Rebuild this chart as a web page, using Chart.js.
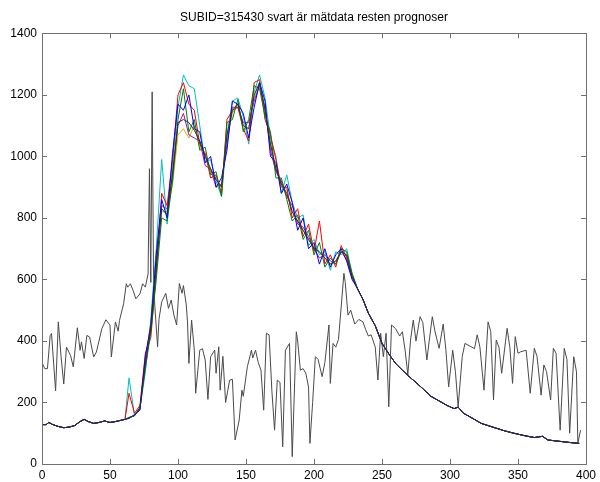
<!DOCTYPE html>
<html lang="sv">
<head>
  <meta charset="UTF-8">
  <title>SUBID=315430</title>
  <script src="https://cdn.jsdelivr.net/npm/chart.js"></script>
  <style>
    html, body { margin: 0; padding: 0; background: #ffffff; }
    #wrap { width: 600px; height: 482px; }
  </style>
</head>
<body>
  <div id="wrap"><canvas id="chart"></canvas></div>
  <script>
    // mätdata (svart)
    const measDays = [0, 2, 4, 6, 7, 10, 12, 14, 16, 18, 21, 23, 26, 28, 29, 31, 33, 35, 38, 40,
      44, 47, 50, 51, 54, 56, 57, 60, 62, 63, 65, 67, 69, 72, 74, 76, 78, 79, 80, 81,
      82, 83, 85, 86, 88, 91, 93, 95, 97, 99, 101, 103, 104, 106, 107, 108, 110, 112, 113, 116,
      118, 120, 122, 124, 127, 128, 130, 131, 133, 135, 138, 140, 142, 145, 147, 148, 151, 154, 155, 157,
      159, 161, 163, 165, 167, 169, 171, 173, 175, 177, 179, 182, 184, 187, 188, 190, 192, 194, 196, 197,
      199, 201, 203, 206, 208, 211, 212, 214, 216, 218, 220, 222, 223, 225, 227, 230, 233, 236, 238, 240,
      242, 245, 247, 249, 251, 253, 255, 257, 260, 263, 265, 267, 269, 271, 273, 275, 278, 280, 283, 285,
      287, 289, 292, 295, 297, 299, 302, 304, 306, 309, 311, 314, 316, 318, 320, 322, 325, 328, 330, 332,
      334, 336, 338, 342, 344, 346, 348, 350, 352, 356, 359, 362, 364, 367, 369, 371, 374, 376, 378, 381,
      384, 386, 388, 391, 393, 394, 396];
    const measVals = [330, 310, 310, 418, 424, 238, 462, 350, 260, 380, 353, 316, 443, 370, 397, 343, 418, 413, 348, 364,
      440, 469, 451, 348, 462, 432, 467, 521, 586, 575, 586, 564, 537, 553, 586, 575, 618, 960, 590, 1210,
      597, 510, 381, 470, 527, 555, 506, 533, 484, 452, 587, 555, 580, 520, 462, 327, 468, 370, 230, 370,
      375, 338, 210, 349, 370, 295, 381, 240, 350, 200, 273, 275, 78, 143, 240, 220, 316, 370, 345, 370,
      330, 305, 175, 425, 420, 240, 110, 273, 265, 56, 370, 392, 24, 430, 400, 305, 310, 295, 250, 67,
      200, 349, 340, 284, 330, 452, 262, 392, 380, 405, 511, 620, 590, 484, 500, 455, 470, 462, 437, 416,
      420, 381, 273, 425, 349, 425, 186, 452, 440, 416, 430, 370, 290, 403, 468, 400, 479, 460, 338, 410,
      479, 430, 376, 455, 370, 251, 370, 300, 186, 349, 392, 385, 380, 375, 420, 380, 240, 462, 430, 208,
      403, 380, 295, 441, 380, 262, 414, 360, 365, 370, 230, 376, 350, 224, 322, 300, 208, 376, 360, 110,
      376, 340, 100, 349, 300, 67, 110];

    // prognoser: gemensam början och slut, medlemmarna skiljer sig i mitten
    const headDays = [0, 3, 5, 8, 12, 16, 20, 24, 28, 31, 34, 38, 42, 46, 50, 54, 58, 61];
    const headVals = [128, 128, 135, 128, 122, 118, 120, 125, 138, 145, 138, 132, 135, 140, 135, 138, 142, 145];
    const midDays = [64, 68, 72, 76, 80, 84, 88, 92, 96, 100, 104, 108, 112, 116, 120, 124, 128, 132, 136, 140,
      144, 148, 152, 156, 160, 164, 168, 172, 176, 180, 184, 188, 192, 196, 200, 204, 208, 212, 216, 220, 224, 228];
    const tailDays = [232, 236, 240, 245, 250, 255, 260, 265, 270, 275, 280, 286, 292, 298, 303, 306, 310, 316, 323, 330,
      335, 340, 347, 355, 362, 368, 372, 380, 388, 395];
    const tailVals = [570, 535, 490, 450, 392, 358, 327, 305, 284, 265, 245, 220, 205, 190, 180, 185, 165, 150, 132, 122,
      115, 108, 100, 92, 86, 90, 78, 74, 70, 67];

    const memberK = [150, 158, 180, 325, 440, 640, 830, 810, 945, 1110, 1120, 1110, 1085, 1050, 1000, 960, 925, 900, 1070, 1150,
      1170, 1100, 1090, 1200, 1240, 1150, 1040, 960, 910, 880, 820, 790, 760, 730, 700, 690, 670, 650, 660, 690, 680, 610];
    const memberB = [148, 160, 175, 350, 450, 680, 860, 800, 1010, 1170, 1150, 1200, 1090, 1080, 980, 1000, 900, 930, 1020, 1180,
      1170, 1140, 1060, 1160, 1240, 1180, 1000, 980, 880, 910, 850, 760, 800, 700, 720, 650, 700, 640, 680, 700, 660, 600];
    const memberG = [152, 156, 185, 310, 430, 600, 800, 790, 920, 1120, 1220, 1080, 1120, 1020, 1030, 940, 950, 870, 1110, 1120,
      1185, 1080, 1120, 1230, 1220, 1130, 1080, 930, 930, 860, 790, 810, 730, 760, 680, 720, 640, 670, 650, 700, 690, 620];
    const memberR = [230, 165, 190, 360, 410, 620, 880, 840, 990, 1200, 1240, 1170, 1150, 1040, 1010, 930, 940, 880, 1120, 1150,
      1160, 1090, 1050, 1240, 1250, 1120, 1070, 990, 900, 900, 800, 830, 740, 780, 690, 790, 650, 680, 640, 710, 670, 610];
    const memberC = [280, 158, 178, 300, 470, 700, 990, 780, 970, 1160, 1265, 1230, 1220, 1100, 980, 990, 920, 870, 1070, 1180,
      1190, 1130, 1040, 1210, 1265, 1190, 1060, 1000, 880, 940, 850, 800, 810, 710, 730, 680, 690, 630, 690, 680, 700, 620];
    const memberM = [150, 160, 182, 340, 455, 660, 840, 830, 940, 1100, 1140, 1070, 1060, 1050, 970, 960, 900, 910, 1040, 1160,
      1160, 1110, 1110, 1180, 1230, 1160, 1020, 950, 920, 870, 840, 780, 770, 740, 700, 670, 680, 660, 650, 690, 665, 605];
    const memberY = [150, 157, 180, 320, 440, 640, 820, 820, 910, 1070, 1090, 1060, 1100, 1030, 1010, 950, 930, 900, 1060, 1140,
      1170, 1100, 1090, 1190, 1240, 1150, 1040, 960, 910, 890, 820, 790, 760, 730, 710, 690, 670, 650, 660, 690, 680, 610];

    // svart först så att den hamnar överst i svansen
    const members = [memberK, memberB, memberG, memberR, memberC, memberM, memberY];
    const memberColors = ['#303030', '#0000ff', '#008000', '#ff0000', '#00bfbf', '#bf00bf', '#bfbf00'];

    const xTicks = [0, 50, 100, 150, 200, 250, 300, 350, 400];
    const yTicks = [0, 200, 400, 600, 800, 1000, 1200, 1400];

    const toPoints = (xs, ys) => xs.map((x, i) => ({ x: x, y: ys[i] }));
    const fcDays = headDays.concat(midDays, tailDays);

    const datasets = members.map((m, i) => ({
      label: 'prognos ' + (i + 1),
      data: toPoints(fcDays, headVals.concat(m, tailVals)),
      borderColor: memberColors[i],
      borderWidth: 1,
      pointRadius: 0,
      tension: 0
    }));
    datasets.push({
      label: 'mätdata',
      data: toPoints(measDays, measVals),
      borderColor: '#4a4a4a',
      borderWidth: 1,
      pointRadius: 0,
      tension: 0
    });

    // ticks pekar inåt på alla fyra sidor, som i MATLAB
    const boxTicks = {
      id: 'boxTicks',
      afterDraw(chart) {
        const c = chart.ctx, a = chart.chartArea;
        const sx = chart.scales.x, sy = chart.scales.y;
        c.save();
        c.strokeStyle = '#707070';
        c.lineWidth = 1;
        c.strokeRect(Math.round(a.left) + 0.5, Math.round(a.top) + 0.5,
          Math.round(a.right - a.left), Math.round(a.bottom - a.top));
        c.beginPath();
        xTicks.forEach(v => {
          const px = Math.round(sx.getPixelForValue(v)) + 0.5;
          c.moveTo(px, a.bottom); c.lineTo(px, a.bottom - 5);
          c.moveTo(px, a.top); c.lineTo(px, a.top + 5);
        });
        yTicks.forEach(v => {
          const py = Math.round(sy.getPixelForValue(v)) + 0.5;
          c.moveTo(a.left, py); c.lineTo(a.left + 5, py);
          c.moveTo(a.right, py); c.lineTo(a.right - 5, py);
        });
        c.stroke();
        c.restore();
      }
    };

    const tickFont = { family: 'Liberation Sans, Arial, sans-serif', size: 12 };

    new Chart(document.getElementById('chart'), {
      type: 'line',
      data: { datasets: datasets },
      plugins: [boxTicks],
      options: {
        responsive: true,
        maintainAspectRatio: false,
        animation: false,
        layout: { padding: { left: 0, right: 11, top: 0, bottom: 0 } },
        plugins: {
          legend: { display: false },
          tooltip: { enabled: false },
          title: {
            display: true,
            fullSize: false,
            text: 'SUBID=315430 svart är mätdata resten prognoser',
            color: '#000000',
            font: { family: 'Liberation Sans, Arial, sans-serif', size: 12, weight: 'normal' },
            padding: { top: 10, bottom: 9 }
          }
        },
        scales: {
          x: {
            type: 'linear',
            min: 0,
            max: 400,
            afterFit: s => { s.height = 18; },
            afterBuildTicks: s => { s.ticks = xTicks.map(v => ({ value: v })); },
            grid: { display: false, drawTicks: false },
            border: { display: false },
            ticks: { color: '#000000', font: tickFont, padding: 4, maxRotation: 0, callback: v => String(v) }
          },
          y: {
            type: 'linear',
            min: 0,
            max: 1400,
            afterFit: s => { s.width = 42; },
            afterBuildTicks: s => { s.ticks = yTicks.map(v => ({ value: v })); },
            grid: { display: false, drawTicks: false },
            border: { display: false },
            ticks: { color: '#000000', font: tickFont, padding: 5, callback: v => String(v) }
          }
        }
      }
    });
  </script>
</body>
</html>
